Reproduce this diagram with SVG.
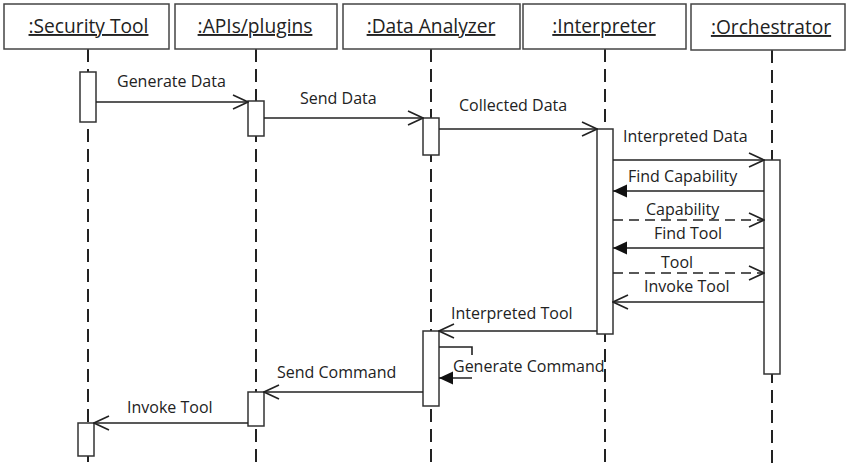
<svg xmlns="http://www.w3.org/2000/svg" width="848" height="466" viewBox="0 0 848 466">
<style>
.box{fill:#fff;stroke:#444;stroke-width:1.5}
.hdr{font-family:"Open Sans","Noto Sans",sans-serif;font-size:19.2px;fill:#222;text-anchor:middle;text-decoration:underline}
.life{stroke:#222;stroke-width:2;stroke-dasharray:13 7;fill:none}
.act{fill:#fff;stroke:#333;stroke-width:1.5}
.msg{stroke:#222;stroke-width:1.6;fill:none}
.open{marker-end:url(#openArrow)}
.filled{marker-end:url(#fillArrow)}
.dash{stroke-dasharray:10 6}
.lbl{font-family:"Open Sans","Noto Sans",sans-serif;font-size:16px;fill:#222}
</style>
<defs>
<marker id="openArrow" markerUnits="userSpaceOnUse" viewBox="-17 -9 18 18" refX="0" refY="0" markerWidth="18" markerHeight="18" orient="auto">
<path d="M-15,-7 L0,0 L-15,7" fill="none" stroke="#222" stroke-width="1.6"/>
</marker>
<marker id="fillArrow" markerUnits="userSpaceOnUse" viewBox="-16 -8 17 16" refX="0" refY="0" markerWidth="17" markerHeight="16" orient="auto">
<path d="M-14,-6.5 L0,0 L-14,6.5 Z" fill="#111"/>
</marker>
</defs>
<rect width="848" height="466" fill="#fff"/>

<g id="lifelines">
<line class="life" x1="88" y1="49" x2="88" y2="466"/>
<line class="life" x1="256" y1="49" x2="256" y2="466"/>
<line class="life" x1="431" y1="49" x2="431" y2="466"/>
<line class="life" x1="605" y1="49" x2="605" y2="466"/>
<line class="life" x1="772" y1="50" x2="772" y2="466"/>
</g>

<g id="securityTool">
<rect class="box" x="4" y="4" width="165" height="45"/>
<text class="hdr" x="88.5" y="33">:Security Tool</text>
<rect class="act" x="80" y="72" width="16" height="50"/>
<rect class="act" x="78" y="423" width="16" height="33"/>
</g>
<g id="apisPlugins">
<rect class="box" x="175" y="4" width="162" height="45"/>
<text class="hdr" x="255" y="33">:APIs/plugins</text>
<rect class="act" x="248" y="101" width="16" height="35"/>
<rect class="act" x="248" y="392" width="16" height="34"/>
</g>
<g id="dataAnalyzer">
<rect class="box" x="343" y="4" width="177" height="45"/>
<text class="hdr" x="431" y="33">:Data Analyzer</text>
<rect class="act" x="423" y="118" width="16" height="37"/>
<rect class="act" x="423" y="331" width="16" height="75"/>
</g>
<g id="interpreter">
<rect class="box" x="523" y="4" width="163" height="45"/>
<text class="hdr" x="604" y="33">:Interpreter</text>
<rect class="act" x="597" y="129" width="16" height="205"/>
</g>
<g id="orchestrator">
<rect class="box" x="691" y="4" width="154" height="46"/>
<text class="hdr" x="771" y="34">:Orchestrator</text>
<rect class="act" x="764" y="160" width="16" height="214"/>
</g>

<g id="connectors">
<path class="msg open" d="M96,102 H248"/>
<text class="lbl" x="117" y="87">Generate Data</text>
<path class="msg open" d="M264,118 H423"/>
<text class="lbl" x="300" y="104">Send Data</text>
<path class="msg open" d="M439,129 H597"/>
<text class="lbl" x="459" y="111">Collected Data</text>
<path class="msg open" d="M613,160 H764"/>
<text class="lbl" x="623" y="142">Interpreted Data</text>
<path class="msg filled" d="M764,191 H613"/>
<text class="lbl" x="628" y="182">Find Capability</text>
<path class="msg dash open" d="M613,220 H764"/>
<text class="lbl" x="646" y="215">Capability</text>
<path class="msg filled" d="M764,248 H613"/>
<text class="lbl" x="654" y="239">Find Tool</text>
<path class="msg dash open" d="M613,273 H764"/>
<text class="lbl" x="661" y="268">Tool</text>
<path class="msg open" d="M764,302 H613"/>
<text class="lbl" x="644" y="292">Invoke Tool</text>
<path class="msg open" d="M597,331 H439"/>
<text class="lbl" x="451" y="319">Interpreted Tool</text>
<polyline class="msg" points="439,347 472,347 472,355"/>
<path class="msg filled" d="M472,378 H439"/>
<text class="lbl" x="453" y="372">Generate Command</text>
<path class="msg open" d="M423,392 H264"/>
<text class="lbl" x="277" y="378">Send Command</text>
<path class="msg open" d="M248,423 H94"/>
<text class="lbl" x="127" y="413">Invoke Tool</text>
</g>
</svg>
